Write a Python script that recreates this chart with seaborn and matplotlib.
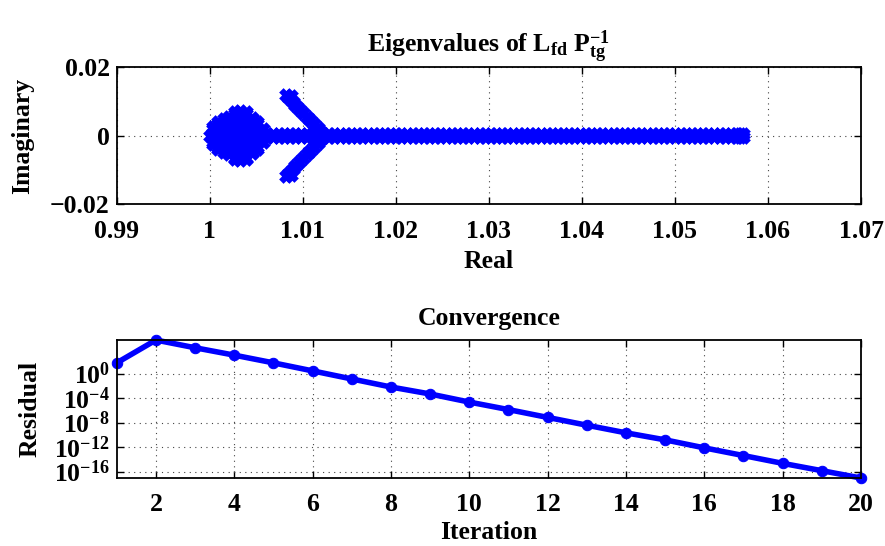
import matplotlib
matplotlib.use("Agg")
import matplotlib.pyplot as plt
import matplotlib.ticker as mticker
import pandas as pd
import seaborn as sns

# ---------------------------------------------------------------------------
# Spectrum of the preconditioned operator (upper half-plane; the lower half
# is the complex conjugate).
# ---------------------------------------------------------------------------
real_eigs = [1.0000]

cluster_re = [1.0003, 1.0003, 1.0003,
              1.0009, 1.0009, 1.0009, 1.0009,
              1.0015, 1.0015, 1.0015, 1.0015,
              1.0021, 1.0021, 1.0021, 1.0021, 1.0021,
              1.0027, 1.0027, 1.0027, 1.0027, 1.0027, 1.0027,
              1.0033, 1.0033, 1.0033, 1.0033, 1.0033, 1.0033,
              1.0039, 1.0039, 1.0039, 1.0039, 1.0039, 1.0039,
              1.0045, 1.0045, 1.0045, 1.0045, 1.0045,
              1.0051, 1.0051, 1.0051, 1.0051,
              1.0057, 1.0057]
cluster_im = [0.0004, 0.0019, 0.0026,
              0.0004, 0.0019, 0.0034, 0.0039,
              0.0004, 0.0019, 0.0034, 0.0047,
              0.0004, 0.0019, 0.0034, 0.0049, 0.0054,
              0.0004, 0.0019, 0.0034, 0.0049, 0.0064, 0.0068,
              0.0004, 0.0019, 0.0034, 0.0049, 0.0064, 0.0072,
              0.0004, 0.0019, 0.0034, 0.0049, 0.0064, 0.0067,
              0.0004, 0.0019, 0.0034, 0.0049, 0.0052,
              0.0004, 0.0019, 0.0034, 0.0038,
              0.0004, 0.0018]

branch_re = [1.0082, 1.0087, 1.0085, 1.0089, 1.0092, 1.0096, 1.0100,
             1.0104, 1.0108, 1.0112, 1.0116, 1.0119]
branch_im = [0.0117, 0.0115, 0.0108, 0.0098, 0.0088, 0.0077, 0.0066,
             0.0055, 0.0044, 0.0033, 0.0023, 0.0014]

band_re = [1.0062, 1.0068, 1.0074, 1.0080, 1.0086, 1.0092, 1.0098, 1.0104, 1.0110, 1.0116,
           1.0122, 1.0128, 1.0134, 1.0140, 1.0146, 1.0152, 1.0158, 1.0164, 1.0170, 1.0176,
           1.0182, 1.0188, 1.0194, 1.0200, 1.0206, 1.0212, 1.0218, 1.0224, 1.0230, 1.0236,
           1.0242, 1.0248, 1.0254, 1.0260, 1.0266, 1.0272, 1.0278, 1.0284, 1.0290, 1.0296,
           1.0302, 1.0308, 1.0314, 1.0320, 1.0326, 1.0332, 1.0338, 1.0344, 1.0350, 1.0356,
           1.0362, 1.0368, 1.0374, 1.0380, 1.0386, 1.0392, 1.0398, 1.0404, 1.0410, 1.0416,
           1.0422, 1.0428, 1.0434, 1.0440, 1.0446, 1.0452, 1.0458, 1.0464, 1.0470, 1.0476,
           1.0482, 1.0488, 1.0494, 1.0500, 1.0506, 1.0512, 1.0518, 1.0524, 1.0530, 1.0536,
           1.0542, 1.0548, 1.0554, 1.0560, 1.0566, 1.0570, 1.0573]
band_im = 0.0004

# Residual history of the iteration
iterations = list(range(1, 21))
residuals = [5.5e1, 2.9e5, 1.6e4, 1.0e3, 5.5e1, 2.7e0, 1.3e-1, 6.3e-3, 4.6e-4, 2.2e-5,
             1.3e-6, 6.9e-8, 3.7e-9, 2.1e-10, 1.5e-11, 7.4e-13, 4.1e-14, 2.2e-15,
             1.4e-16, 8.9e-18]

# Tick definitions
real_ticks = [0.99, 1.00, 1.01, 1.02, 1.03, 1.04, 1.05, 1.06, 1.07]
real_tick_labels = ["0.99", "1", "1.01", "1.02", "1.03", "1.04", "1.05", "1.06", "1.07"]
imag_ticks = [-0.02, 0.0, 0.02]
imag_tick_labels = ["\u22120.02", "0", "0.02"]
iter_ticks = [2, 4, 6, 8, 10, 12, 14, 16, 18, 20]
res_ticks = [1e0, 1e-4, 1e-8, 1e-12, 1e-16]
res_tick_labels = [r"$\mathbf{10^{0}}$", r"$\mathbf{10^{-4}}$", r"$\mathbf{10^{-8}}$",
                   r"$\mathbf{10^{-12}}$", r"$\mathbf{10^{-16}}$"]

# ---------------------------------------------------------------------------
sns.set_theme(style="white")
plt.rcParams.update({
    "font.family": ["Liberation Serif", "DejaVu Serif"],
    "font.weight": "bold",
    "axes.labelweight": "bold",
    "axes.titleweight": "bold",
    "mathtext.fontset": "custom",
    "mathtext.rm": "Liberation Serif:bold",
    "mathtext.bf": "Liberation Serif:bold",
    "mathtext.it": "Liberation Serif:italic:bold",
    "axes.unicode_minus": True,
    "text.color": "black",
    "axes.labelcolor": "black",
    "axes.titlecolor": "black",
    "xtick.color": "black",
    "ytick.color": "black",
})

FS = 18.5
BLUE = "#0000ff"

upper_re = cluster_re + branch_re + band_re
upper_im = cluster_im + branch_im + [band_im] * len(band_re)
eig = pd.DataFrame({
    "re": real_eigs + upper_re + upper_re,
    "im": [0.0] * len(real_eigs) + upper_im + [-v for v in upper_im],
})

fig = plt.figure(figsize=(8.85, 5.46), dpi=100)
ax1 = fig.add_axes([0.1319, 0.6258, 0.8410, 0.2520])
ax2 = fig.add_axes([0.1319, 0.1245, 0.8410, 0.2527])


def style_axes(ax, xpad, ypad):
    ax.set_axisbelow(True)
    ax.grid(True, which="major", color="#444444", linestyle=(0, (1, 4)), linewidth=0.8)
    for s in ax.spines.values():
        s.set_visible(True)
        s.set_color("black")
        s.set_linewidth(1.3)
    ax.tick_params(axis="both", which="major", direction="in", length=5, width=1,
                   top=True, right=True, bottom=True, left=True,
                   labelsize=FS, colors="black")
    ax.tick_params(axis="x", pad=xpad)
    ax.tick_params(axis="y", pad=ypad)


# --- eigenvalue plot -------------------------------------------------------
sns.scatterplot(data=eig, x="re", y="im", marker="x", s=55, linewidths=4.5,
                color=BLUE, ax=ax1, legend=False)
ax1.set_xlim(0.99, 1.07)
ax1.set_ylim(-0.02, 0.02)
ax1.set_xticks(real_ticks, real_tick_labels)
ax1.set_yticks(imag_ticks, imag_tick_labels)
style_axes(ax1, 11, 5)
ax1.set_title(r"Eigenvalues of $\mathbf{L_{fd}\ P_{tg}^{-1}}$", fontsize=FS, pad=10.5)
ax1.set_xlabel("Real", fontsize=FS, labelpad=5.0)
ax1.set_ylabel("Imaginary", fontsize=FS)
ax1.yaxis.set_label_coords(-0.111, 0.5)
# enforce the stroke width on the eigenvalue markers
for coll in ax1.collections:
    coll.set_linewidths(4.5)

# --- convergence plot ------------------------------------------------------
sns.lineplot(x=iterations, y=residuals, ax=ax2, color=BLUE, linewidth=4,
             marker="o", markersize=7.5, markeredgecolor=BLUE, clip_on=False)
ax2.set_yscale("log")
ax2.set_xlim(1, 20)
ax2.set_ylim(min(residuals), max(residuals))
ax2.set_xticks(iter_ticks, [str(t) for t in iter_ticks])
ax2.set_yticks(res_ticks, res_tick_labels)
ax2.yaxis.set_minor_locator(mticker.NullLocator())
style_axes(ax2, 11, 5)
ax2.set_title("Convergence", fontsize=FS, pad=10.5)
ax2.set_xlabel("Iteration", fontsize=FS, labelpad=3.5)
ax2.set_ylabel("Residual", fontsize=FS)
ax2.yaxis.set_label_coords(-0.101, 0.5)

fig.savefig("out.png", dpi=100)
